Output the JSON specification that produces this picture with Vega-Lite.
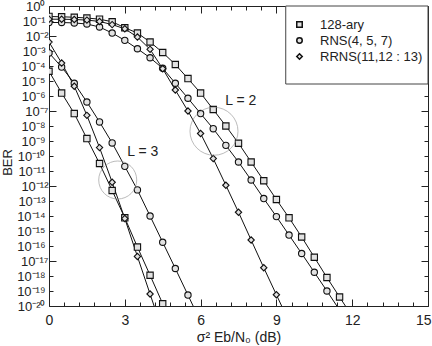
{
  "$schema": "https://vega.github.io/schema/vega-lite/v6.json",
  "width": 379,
  "height": 300,
  "autosize": {"type": "none"},
  "padding": {"left": 49, "top": 6, "right": 4, "bottom": 40},
  "background": "white",
  "config": {"font": "Liberation Sans", "view": {"stroke": "#222", "strokeWidth": 1}},
  "datasets": {
    "curves": [
      {"series": "128-ary", "L": "2", "x": 0, "ber": 2.0e-1},
      {"series": "128-ary", "L": "2", "x": 0.5, "ber": 1.91e-1},
      {"series": "128-ary", "L": "2", "x": 1, "ber": 1.78e-1},
      {"series": "128-ary", "L": "2", "x": 1.5, "ber": 1.58e-1},
      {"series": "128-ary", "L": "2", "x": 2, "ber": 1.32e-1},
      {"series": "128-ary", "L": "2", "x": 2.5, "ber": 8.91e-2},
      {"series": "128-ary", "L": "2", "x": 3, "ber": 3.55e-2},
      {"series": "128-ary", "L": "2", "x": 3.5, "ber": 1.58e-2},
      {"series": "128-ary", "L": "2", "x": 4, "ber": 3.98e-3},
      {"series": "128-ary", "L": "2", "x": 4.5, "ber": 7.94e-4},
      {"series": "128-ary", "L": "2", "x": 5, "ber": 1.26e-4},
      {"series": "128-ary", "L": "2", "x": 5.5, "ber": 1.45e-5},
      {"series": "128-ary", "L": "2", "x": 6, "ber": 1.58e-6},
      {"series": "128-ary", "L": "2", "x": 6.5, "ber": 1.26e-7},
      {"series": "128-ary", "L": "2", "x": 7, "ber": 1.0e-8},
      {"series": "128-ary", "L": "2", "x": 7.5, "ber": 7.08e-10},
      {"series": "128-ary", "L": "2", "x": 8, "ber": 3.98e-11},
      {"series": "128-ary", "L": "2", "x": 8.5, "ber": 2.24e-12},
      {"series": "128-ary", "L": "2", "x": 9, "ber": 1.26e-13},
      {"series": "128-ary", "L": "2", "x": 9.5, "ber": 7.59e-15},
      {"series": "128-ary", "L": "2", "x": 10, "ber": 3.98e-16},
      {"series": "128-ary", "L": "2", "x": 10.5, "ber": 1.78e-17},
      {"series": "128-ary", "L": "2", "x": 11, "ber": 7.94e-19},
      {"series": "128-ary", "L": "2", "x": 11.5, "ber": 3.98e-20},
      {"series": "128-ary", "L": "2", "x": 12, "ber": 2.0e-21},
      {"series": "RNS(4, 5, 7)", "L": "2", "x": 0, "ber": 7.94e-2},
      {"series": "RNS(4, 5, 7)", "L": "2", "x": 0.5, "ber": 7.94e-2},
      {"series": "RNS(4, 5, 7)", "L": "2", "x": 1, "ber": 7.41e-2},
      {"series": "RNS(4, 5, 7)", "L": "2", "x": 1.5, "ber": 6.31e-2},
      {"series": "RNS(4, 5, 7)", "L": "2", "x": 2, "ber": 3.98e-2},
      {"series": "RNS(4, 5, 7)", "L": "2", "x": 2.5, "ber": 1.58e-2},
      {"series": "RNS(4, 5, 7)", "L": "2", "x": 3, "ber": 5.13e-3},
      {"series": "RNS(4, 5, 7)", "L": "2", "x": 3.5, "ber": 1.41e-3},
      {"series": "RNS(4, 5, 7)", "L": "2", "x": 4, "ber": 3.55e-4},
      {"series": "RNS(4, 5, 7)", "L": "2", "x": 4.5, "ber": 7.08e-5},
      {"series": "RNS(4, 5, 7)", "L": "2", "x": 5, "ber": 7.08e-6},
      {"series": "RNS(4, 5, 7)", "L": "2", "x": 5.5, "ber": 7.08e-7},
      {"series": "RNS(4, 5, 7)", "L": "2", "x": 6, "ber": 6.76e-8},
      {"series": "RNS(4, 5, 7)", "L": "2", "x": 6.5, "ber": 6.61e-9},
      {"series": "RNS(4, 5, 7)", "L": "2", "x": 7, "ber": 5.13e-10},
      {"series": "RNS(4, 5, 7)", "L": "2", "x": 7.5, "ber": 3.98e-11},
      {"series": "RNS(4, 5, 7)", "L": "2", "x": 8, "ber": 2.51e-12},
      {"series": "RNS(4, 5, 7)", "L": "2", "x": 8.5, "ber": 1.45e-13},
      {"series": "RNS(4, 5, 7)", "L": "2", "x": 9, "ber": 9.12e-15},
      {"series": "RNS(4, 5, 7)", "L": "2", "x": 9.5, "ber": 5.37e-16},
      {"series": "RNS(4, 5, 7)", "L": "2", "x": 10, "ber": 3.16e-17},
      {"series": "RNS(4, 5, 7)", "L": "2", "x": 10.5, "ber": 1.78e-18},
      {"series": "RNS(4, 5, 7)", "L": "2", "x": 11, "ber": 1.0e-19},
      {"series": "RNS(4, 5, 7)", "L": "2", "x": 11.5, "ber": 5.37e-21},
      {"series": "RRNS(11,12 : 13)", "L": "2", "x": 0, "ber": 1.32e-1},
      {"series": "RRNS(11,12 : 13)", "L": "2", "x": 0.5, "ber": 1.32e-1},
      {"series": "RRNS(11,12 : 13)", "L": "2", "x": 1, "ber": 1.26e-1},
      {"series": "RRNS(11,12 : 13)", "L": "2", "x": 1.5, "ber": 1.15e-1},
      {"series": "RRNS(11,12 : 13)", "L": "2", "x": 2, "ber": 9.33e-2},
      {"series": "RRNS(11,12 : 13)", "L": "2", "x": 2.5, "ber": 5.75e-2},
      {"series": "RRNS(11,12 : 13)", "L": "2", "x": 3, "ber": 3.02e-2},
      {"series": "RRNS(11,12 : 13)", "L": "2", "x": 3.5, "ber": 8.51e-3},
      {"series": "RRNS(11,12 : 13)", "L": "2", "x": 4, "ber": 1.29e-3},
      {"series": "RRNS(11,12 : 13)", "L": "2", "x": 4.5, "ber": 6.61e-5},
      {"series": "RRNS(11,12 : 13)", "L": "2", "x": 5, "ber": 2.51e-6},
      {"series": "RRNS(11,12 : 13)", "L": "2", "x": 5.5, "ber": 1.0e-7},
      {"series": "RRNS(11,12 : 13)", "L": "2", "x": 6, "ber": 3.16e-9},
      {"series": "RRNS(11,12 : 13)", "L": "2", "x": 6.5, "ber": 6.76e-11},
      {"series": "RRNS(11,12 : 13)", "L": "2", "x": 7, "ber": 1.12e-12},
      {"series": "RRNS(11,12 : 13)", "L": "2", "x": 7.5, "ber": 1.78e-14},
      {"series": "RRNS(11,12 : 13)", "L": "2", "x": 8, "ber": 2.51e-16},
      {"series": "RRNS(11,12 : 13)", "L": "2", "x": 8.5, "ber": 3.55e-18},
      {"series": "RRNS(11,12 : 13)", "L": "2", "x": 9, "ber": 5.62e-20},
      {"series": "RRNS(11,12 : 13)", "L": "2", "x": 9.5, "ber": 8.91e-22},
      {"series": "128-ary", "L": "3", "x": 0, "ber": 4.47e-5},
      {"series": "128-ary", "L": "3", "x": 0.5, "ber": 1.58e-6},
      {"series": "128-ary", "L": "3", "x": 1, "ber": 6.76e-8},
      {"series": "128-ary", "L": "3", "x": 1.5, "ber": 1.45e-9},
      {"series": "128-ary", "L": "3", "x": 2, "ber": 3.16e-11},
      {"series": "128-ary", "L": "3", "x": 2.5, "ber": 5.01e-13},
      {"series": "128-ary", "L": "3", "x": 3, "ber": 7.59e-15},
      {"series": "128-ary", "L": "3", "x": 3.5, "ber": 8.51e-17},
      {"series": "128-ary", "L": "3", "x": 4, "ber": 1.12e-18},
      {"series": "128-ary", "L": "3", "x": 4.5, "ber": 1.41e-20},
      {"series": "128-ary", "L": "3", "x": 5, "ber": 1.58e-22},
      {"series": "RNS(4, 5, 7)", "L": "3", "x": 0, "ber": 7.41e-4},
      {"series": "RNS(4, 5, 7)", "L": "3", "x": 0.5, "ber": 8.51e-5},
      {"series": "RNS(4, 5, 7)", "L": "3", "x": 1, "ber": 7.08e-6},
      {"series": "RNS(4, 5, 7)", "L": "3", "x": 1.5, "ber": 3.98e-7},
      {"series": "RNS(4, 5, 7)", "L": "3", "x": 2, "ber": 1.86e-8},
      {"series": "RNS(4, 5, 7)", "L": "3", "x": 2.5, "ber": 7.41e-10},
      {"series": "RNS(4, 5, 7)", "L": "3", "x": 3, "ber": 2.04e-11},
      {"series": "RNS(4, 5, 7)", "L": "3", "x": 3.5, "ber": 5.5e-13},
      {"series": "RNS(4, 5, 7)", "L": "3", "x": 4, "ber": 1.0e-14},
      {"series": "RNS(4, 5, 7)", "L": "3", "x": 4.5, "ber": 1.78e-16},
      {"series": "RNS(4, 5, 7)", "L": "3", "x": 5, "ber": 3.16e-18},
      {"series": "RNS(4, 5, 7)", "L": "3", "x": 5.5, "ber": 5.37e-20},
      {"series": "RNS(4, 5, 7)", "L": "3", "x": 6, "ber": 8.91e-22},
      {"series": "RRNS(11,12 : 13)", "L": "3", "x": 0, "ber": 3.98e-3},
      {"series": "RRNS(11,12 : 13)", "L": "3", "x": 0.5, "ber": 1.58e-4},
      {"series": "RRNS(11,12 : 13)", "L": "3", "x": 1, "ber": 4.47e-6},
      {"series": "RRNS(11,12 : 13)", "L": "3", "x": 1.5, "ber": 5.13e-8},
      {"series": "RRNS(11,12 : 13)", "L": "3", "x": 2, "ber": 3.63e-10},
      {"series": "RRNS(11,12 : 13)", "L": "3", "x": 2.5, "ber": 1.78e-12},
      {"series": "RRNS(11,12 : 13)", "L": "3", "x": 3, "ber": 6.76e-15},
      {"series": "RRNS(11,12 : 13)", "L": "3", "x": 3.5, "ber": 2.0e-17},
      {"series": "RRNS(11,12 : 13)", "L": "3", "x": 4, "ber": 6.31e-20},
      {"series": "RRNS(11,12 : 13)", "L": "3", "x": 4.5, "ber": 2.0e-22}
    ],
    "rings": [
      {"group": "L = 3", "x": 2.72, "ber": 2.51e-12},
      {"group": "L = 2", "x": 6.53, "ber": 4.47e-9}
    ],
    "notes": [
      {"text": "L = 3", "x": 3.71, "ber": 1.78e-10},
      {"text": "L = 2", "x": 7.59, "ber": 4.47e-7}
    ],
    "box": [{"x": 9.37, "x2": 15, "ber": 1, "ber2": 6.3e-6}]
  },
  "layer": [
    {
      "data": {"name": "box"},
      "mark": {"type": "rect", "fill": "white", "stroke": "#444", "strokeWidth": 1},
      "encoding": {
        "x": {"field": "x", "type": "quantitative", "scale": {"domain": [0, 15], "nice": false, "zero": false}, "axis": null},
        "x2": {"field": "x2"},
        "y": {"field": "ber", "type": "quantitative", "scale": {"type": "log", "domain": [1e-20, 1], "nice": false}, "axis": null},
        "y2": {"field": "ber2"}
      }
    },
    {
      "data": {"name": "curves"},
      "mark": {"type": "line", "color": "#111", "strokeWidth": 1, "clip": true},
      "encoding": {
        "x": {
          "field": "x", "type": "quantitative",
          "scale": {"domain": [0, 15], "nice": false, "zero": false},
          "axis": {
            "orient": "bottom",
            "values": [0, 0.6, 1.2, 1.8, 2.4, 3, 3.6, 4.2, 4.8, 5.4, 6, 6.6, 7.2, 7.8, 8.4, 9, 9.6, 10.2, 10.8, 11.4, 12, 12.6, 13.2, 13.8, 14.4, 15],
            "labelExpr": "datum.value % 3 == 0 ? format(datum.value, 'd') : ''",
            "labelAlign": {"condition": {"test": "datum.value == 15", "value": "right"}, "value": "center"},
            "labelOffset": {"condition": {"test": "datum.value == 15", "value": 3}, "value": 0},
            "tickSize": {"condition": {"test": "datum.value % 3 == 0", "value": -7}, "value": -4},
            "tickColor": "#222",
            "domain": false,
            "grid": false,
            "labelFontSize": 14,
            "labelColor": "#222",
            "labelPadding": 14,
            "labelFlush": false,
            "labelOverlap": false,
            "title": "σ² Eb/N₀ (dB)",
            "titleFontSize": 14,
            "titleFontWeight": "normal",
            "titleColor": "#222",
            "titlePadding": 0
          }
        },
        "y": {
          "field": "ber", "type": "quantitative",
          "scale": {"type": "log", "domain": [1e-20, 1], "nice": false},
          "axis": {
            "orient": "left",
            "values": [1, 1e-1, 1e-2, 1e-3, 1e-4, 1e-5, 1e-6, 1e-7, 1e-8, 1e-9, 1e-10, 1e-11, 1e-12, 1e-13, 1e-14, 1e-15, 1e-16, 1e-17, 1e-18, 1e-19, 1e-20],
            "labelExpr": "['10⁰','10⁻¹','10⁻²','10⁻³','10⁻⁴','10⁻⁵','10⁻⁶','10⁻⁷','10⁻⁸','10⁻⁹','10⁻¹⁰','10⁻¹¹','10⁻¹²','10⁻¹³','10⁻¹⁴','10⁻¹⁵','10⁻¹⁶','10⁻¹⁷','10⁻¹⁸','10⁻¹⁹','10⁻²⁰'][round(-log(datum.value)/LN10)]",
            "tickSize": {"condition": {"test": "(round(-log(datum.value)/LN10) + 3) % 5 == 0", "value": -7}, "value": -4},
            "tickColor": "#222",
            "domain": false,
            "grid": false,
            "labelFontSize": 13,
            "labelColor": "#222",
            "labelPadding": 8,
            "labelFlush": false,
            "labelOverlap": false,
            "title": "BER",
            "titleFontSize": 13,
            "titleFontWeight": "normal",
            "titleColor": "#222",
            "titleAngle": -90,
            "titleX": -42,
            "titleY": 156,
            "titleAlign": "center",
            "titleBaseline": "middle"
          }
        },
        "detail": [{"field": "series"}, {"field": "L"}]
      }
    },
    {
      "data": {"name": "curves"},
      "mark": {"type": "point", "filled": true, "fill": "#e2e2e2", "stroke": "#111", "strokeWidth": 1.1, "opacity": 1, "size": 40, "clip": true},
      "encoding": {
        "x": {"field": "x", "type": "quantitative", "scale": {"domain": [0, 15], "nice": false, "zero": false}, "axis": null},
        "y": {"field": "ber", "type": "quantitative", "scale": {"type": "log", "domain": [1e-20, 1], "nice": false}, "axis": null},
        "shape": {
          "field": "series", "type": "nominal",
          "scale": {"domain": ["128-ary", "RNS(4, 5, 7)", "RRNS(11,12 : 13)"], "range": ["square", "circle", "diamond"]},
          "legend": {
            "orient": "none", "legendX": 244, "legendY": 12,
            "title": null, "padding": 0,
            "labelFontSize": 13, "labelColor": "#222", "labelOffset": 14,
            "symbolSize": 30,
            "rowPadding": 2,
            "encode": {
              "symbols": {
                "update": {
                  "fill": {"value": "white"},
                  "stroke": {"value": "#222"},
                  "strokeWidth": {"value": 1.2},
                  "opacity": {"value": 1}
                }
              }
            }
          }
        }
      }
    },
    {
      "data": {"name": "rings"},
      "transform": [{"filter": "datum.group == 'L = 3'"}],
      "mark": {"type": "point", "shape": "circle", "filled": false, "stroke": "#888", "strokeWidth": 0.8, "size": 1444},
      "encoding": {
        "x": {"field": "x", "type": "quantitative", "scale": {"domain": [0, 15], "nice": false, "zero": false}, "axis": null},
        "y": {"field": "ber", "type": "quantitative", "scale": {"type": "log", "domain": [1e-20, 1], "nice": false}, "axis": null}
      }
    },
    {
      "data": {"name": "rings"},
      "transform": [{"filter": "datum.group == 'L = 2'"}],
      "mark": {"type": "point", "shape": "circle", "filled": false, "stroke": "#888", "strokeWidth": 0.8, "size": 2304},
      "encoding": {
        "x": {"field": "x", "type": "quantitative", "scale": {"domain": [0, 15], "nice": false, "zero": false}, "axis": null},
        "y": {"field": "ber", "type": "quantitative", "scale": {"type": "log", "domain": [1e-20, 1], "nice": false}, "axis": null}
      }
    },
    {
      "data": {"name": "notes"},
      "mark": {"type": "text", "fontSize": 14, "color": "#222", "align": "center", "baseline": "middle"},
      "encoding": {
        "x": {"field": "x", "type": "quantitative", "scale": {"domain": [0, 15], "nice": false, "zero": false}, "axis": null},
        "y": {"field": "ber", "type": "quantitative", "scale": {"type": "log", "domain": [1e-20, 1], "nice": false}, "axis": null},
        "text": {"field": "text"}
      }
    },
    {
      "data": {"name": "notes"},
      "mark": {"type": "point", "opacity": 0},
      "encoding": {
        "x": {
          "field": "x", "type": "quantitative",
          "scale": {"domain": [0, 15], "nice": false, "zero": false},
          "axis": {
            "orient": "top",
            "values": [0, 0.6, 1.2, 1.8, 2.4, 3, 3.6, 4.2, 4.8, 5.4, 6, 6.6, 7.2, 7.8, 8.4, 9, 9.6, 10.2, 10.8, 11.4, 12, 12.6, 13.2, 13.8, 14.4, 15],
            "labels": false, "domain": false, "grid": false, "title": null,
            "tickColor": "#222",
            "tickSize": {"condition": {"test": "datum.value % 3 == 0", "value": -7}, "value": -4}
          }
        },
        "y": {
          "field": "ber", "type": "quantitative",
          "scale": {"type": "log", "domain": [1e-20, 1], "nice": false},
          "axis": {
            "orient": "right",
            "values": [1, 1e-1, 1e-2, 1e-3, 1e-4, 1e-5, 1e-6, 1e-7, 1e-8, 1e-9, 1e-10, 1e-11, 1e-12, 1e-13, 1e-14, 1e-15, 1e-16, 1e-17, 1e-18, 1e-19, 1e-20],
            "labels": false, "domain": false, "grid": false, "title": null,
            "tickColor": "#222",
            "tickSize": {"condition": {"test": "(round(-log(datum.value)/LN10) + 3) % 5 == 0", "value": -7}, "value": -4}
          }
        }
      }
    }
  ]
}
